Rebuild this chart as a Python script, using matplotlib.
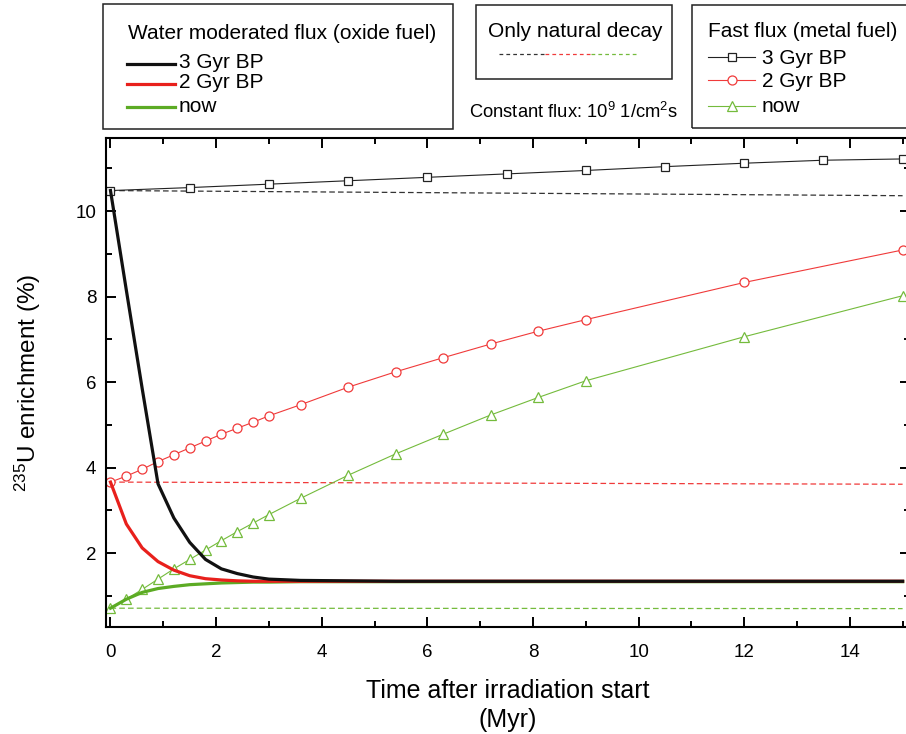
import matplotlib
matplotlib.use("Agg")
import matplotlib.pyplot as plt
from matplotlib.lines import Line2D
from matplotlib.patches import Rectangle
from matplotlib.ticker import MultipleLocator

plt.rcParams['font.family'] = ['Liberation Sans', 'DejaVu Sans']
plt.rcParams['mathtext.fontset'] = 'custom'
plt.rcParams['mathtext.rm'] = 'Liberation Sans'
plt.rcParams['mathtext.it'] = 'Liberation Sans:italic'

# Fast flux (metal fuel)
t_fast_3 = [0, 1.5, 3, 4.5, 6, 7.5, 9, 10.5, 12, 13.5, 15]
e_fast_3 = [10.48, 10.55, 10.63, 10.71, 10.79, 10.87, 10.95, 11.04, 11.12, 11.19, 11.22]

t_fast = [0, 0.3, 0.6, 0.9, 1.2, 1.5, 1.8, 2.1, 2.4, 2.7, 3.0, 3.6, 4.5, 5.4, 6.3, 7.2, 8.1, 9.0, 12, 15]
e_fast_2 = [3.66, 3.80, 3.96, 4.14, 4.30, 4.46, 4.62, 4.78, 4.92, 5.06, 5.21, 5.47, 5.88, 6.24, 6.57,
            6.89, 7.19, 7.46, 8.33, 9.09]
e_fast_now = [0.71, 0.92, 1.15, 1.39, 1.63, 1.85, 2.07, 2.29, 2.50, 2.70, 2.90, 3.28, 3.82, 4.32, 4.78,
              5.23, 5.64, 6.03, 7.06, 8.02]

# Water moderated flux (oxide fuel)
t_water = [0, 0.3, 0.6, 0.9, 1.2, 1.5, 1.8, 2.1, 2.4, 2.7, 3.0, 3.6, 4.5, 5.4, 6.3, 7.2, 8.1, 9.0, 12, 15]
e_water_3 = [10.48, 8.15, 5.85, 3.62, 2.82, 2.25, 1.85, 1.63, 1.52, 1.44, 1.39, 1.36, 1.35, 1.34, 1.34,
             1.34, 1.34, 1.34, 1.34, 1.34]
e_water_2 = [3.66, 2.68, 2.12, 1.80, 1.60, 1.47, 1.40, 1.37, 1.35, 1.34, 1.34, 1.34, 1.34, 1.34, 1.34,
             1.34, 1.34, 1.34, 1.34, 1.34]
e_water_now = [0.71, 0.92, 1.08, 1.17, 1.22, 1.26, 1.28, 1.30, 1.31, 1.32, 1.32, 1.33, 1.33, 1.33, 1.33,
               1.33, 1.33, 1.33, 1.33, 1.33]

# Only natural decay
t_decay = [0, 15]
decay_3 = [10.48, 10.36]
decay_2 = [3.66, 3.61]
decay_now = [0.71, 0.70]

c_black = '#111111'
c_red = '#e8201c'
c_green = '#5cab24'
c_red_thin = '#f03a3a'
c_green_thin = '#74bb3c'

W, H = 906, 734
fig = plt.figure(figsize=(W / 100, H / 100), dpi=100)


def fx(x):
    return x / W


def fy(y):
    return 1 - y / H


# right spine sits just past the image edge, as in the original
ax = fig.add_axes([fx(106), fy(627), (910 - 106) / W, (627 - 138) / H])

dash = (0, (4.5, 2.5))
ax.plot(t_decay, decay_3, color='#333333', lw=0.9, ls=dash)
ax.plot(t_decay, decay_2, color=c_red_thin, lw=0.9, ls=dash)
ax.plot(t_decay, decay_now, color=c_green_thin, lw=0.9, ls=dash)

ax.plot(t_fast_3, e_fast_3, color='#222222', lw=0.8, marker='s', ms=5.5, mfc='white', mec='#222222', mew=0.9)
ax.plot(t_fast, e_fast_2, color=c_red_thin, lw=0.8, marker='o', ms=6.5, mfc='white', mec=c_red_thin, mew=0.9)
ax.plot(t_fast, e_fast_now, color=c_green_thin, lw=0.8, marker='^', ms=7, mfc='white', mec=c_green_thin, mew=0.9)

ax.plot(t_water, e_water_now, color=c_green, lw=2.3, zorder=4)
ax.plot(t_water, e_water_2, color=c_red, lw=2.3, zorder=4)
ax.plot(t_water, e_water_3, color=c_black, lw=2.3, zorder=4)

ax.set_xlim(-0.085, 15.14)
ax.set_ylim(0.27, 11.71)
ax.xaxis.set_major_locator(MultipleLocator(2))
ax.xaxis.set_minor_locator(MultipleLocator(1))
ax.yaxis.set_minor_locator(MultipleLocator(1))
ax.set_yticks([2, 4, 6, 8, 10])
ax.tick_params(which='both', direction='in', top=True, right=True, width=1.4, labelsize=13.5)
ax.tick_params(which='major', length=7.5)
ax.tick_params(which='minor', length=4.5)
ax.tick_params(axis='x', pad=12.5)
ax.tick_params(axis='y', pad=7)
for s in ax.spines.values():
    s.set_linewidth(1.5)

ax.set_xlabel("Time after irradiation start\n(Myr)", fontsize=18, labelpad=13, linespacing=1.22)
ax.set_ylabel("$^{235}$U enrichment (%)", fontsize=17.5)
ax.yaxis.set_label_coords((43 - 106) / 804, 0.5)

# legend boxes above the axes
box_kw = dict(fill=False, lw=1.1, ec='#222222', transform=fig.transFigure)
leg_fs = 15


def box(x0, y0, x1, y1):
    fig.add_artist(Rectangle((fx(x0), fy(y1)), fx(x1) - fx(x0), fy(y0) - fy(y1), **box_kw))


def handle(x0, x1, y, color, lw, ls='-', marker=None, mcolor=None, ms=6):
    fig.add_artist(Line2D([fx(x0), fx(x1)], [fy(y), fy(y)], transform=fig.transFigure,
                          color=color, lw=lw, ls=ls))
    if marker:
        fig.add_artist(Line2D([fx((x0 + x1) / 2)], [fy(y)], transform=fig.transFigure, ls='none',
                              marker=marker, ms=ms, mfc='white', mec=mcolor, mew=0.9))


# Water moderated flux
box(103, 4, 453, 129)
fig.text(fx(128), fy(39), "Water moderated flux (oxide fuel)", fontsize=leg_fs, va='baseline')
water_labels = ["3 Gyr BP", "2 Gyr BP", "now"]
water_colors = [c_black, c_red, c_green]
for lab, col, yl, yb in zip(water_labels, water_colors, [64, 84, 106.5], [68, 88, 112]):
    handle(127, 175, yl, col, 2.3)
    fig.text(fx(179), fy(yb), lab, fontsize=leg_fs, va='baseline')

# Only natural decay
box(476, 5, 672, 79)
fig.text(fx(488), fy(37), "Only natural decay", fontsize=leg_fs, va='baseline')
handle(499, 545, 54, '#333333', 0.9, ls=(0, (3, 2.5)))
handle(545, 591, 54, c_red_thin, 0.9, ls=(0, (3, 2.5)))
handle(591, 637, 54, c_green_thin, 0.9, ls=(0, (3, 2.5)))
fig.text(fx(469), fy(118), "Constant flux: 10$^{9}$ 1/cm$^{2}$s", fontsize=13.2, va='baseline')

# Fast flux
box(692, 5, 915, 128)
fig.text(fx(708), fy(37), "Fast flux (metal fuel)", fontsize=leg_fs, va='baseline')
fast_markers = ['s', 'o', '^']
fast_colors = ['#222222', c_red_thin, c_green_thin]
fast_ms = [5.5, 6.5, 7]
for lab, col, mk, m, yl, yb in zip(water_labels, fast_colors, fast_markers, fast_ms, [57, 80, 106], [64, 87, 111.5]):
    handle(708, 755, yl, col, 0.8, marker=mk, mcolor=col, ms=m)
    fig.text(fx(762), fy(yb), lab, fontsize=leg_fs, va='baseline')

fig.savefig("out.png", dpi=100)
